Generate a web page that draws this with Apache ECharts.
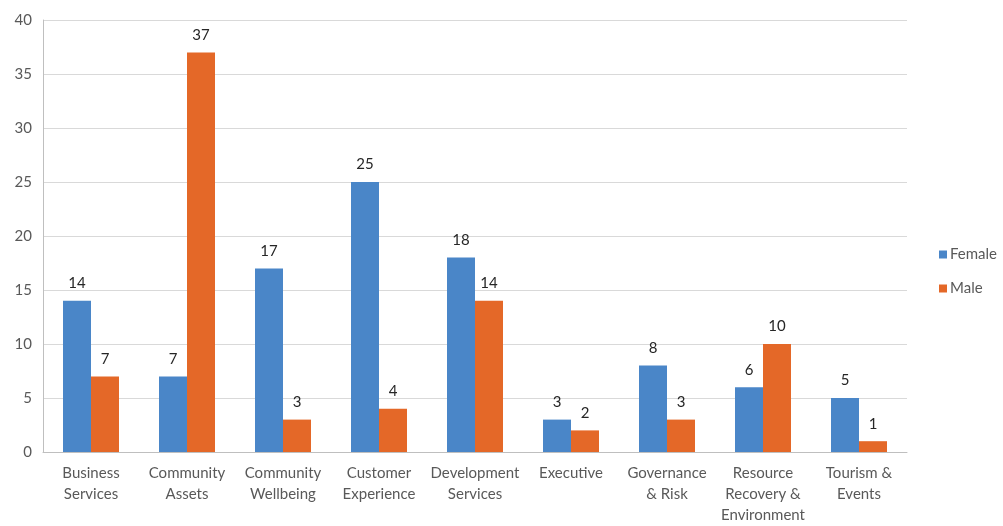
<!DOCTYPE html>
<html>
<head>
<meta charset="utf-8">
<script src="https://cdn.jsdelivr.net/npm/echarts@6/dist/echarts.min.js"></script>
<style>
  html, body { margin: 0; padding: 0; background: #fff; }
  #chart { width: 1003px; height: 526px; }
</style>
</head>
<body>
<div id="chart"></div>
<script>
// Staff headcount by department, split by gender
const categories = [
  'Business\nServices',
  'Community\nAssets',
  'Community\nWellbeing',
  'Customer\nExperience',
  'Development\nServices',
  'Executive',
  'Governance\n& Risk',
  'Resource\nRecovery &\nEnvironment',
  'Tourism &\nEvents'
];
const female = [14, 7, 17, 25, 18, 3, 8, 6, 5];
const male = [7, 37, 3, 4, 14, 2, 3, 10, 1];
const yTicks = [0, 5, 10, 15, 20, 25, 30, 35, 40];

const FONT = 'Lato, "Open Sans", sans-serif';

const chart = echarts.init(document.getElementById('chart'), null, { renderer: 'canvas' });

const labelStyle = {
  show: true,
  position: 'top',
  distance: 10,
  color: '#262626',
  fontFamily: FONT,
  fontSize: 15
};

chart.setOption({
  animation: false,
  backgroundColor: '#ffffff',
  grid: { left: 43, right: 96, top: 20, bottom: 70, containLabel: false },
  legend: {
    orient: 'vertical',
    left: 934,
    top: 242,
    itemWidth: 8,
    itemHeight: 8,
    itemGap: 19,
    icon: 'rect',
    textStyle: { color: '#595959', fontFamily: FONT, fontSize: 15, padding: [0, 0, 0, -2] },
    data: ['Female', 'Male']
  },
  xAxis: {
    type: 'category',
    data: categories,
    axisLine: { show: true, lineStyle: { color: '#bfbfbf', width: 1 } },
    axisTick: { show: false },
    axisLabel: {
      color: '#595959',
      fontFamily: FONT,
      fontSize: 15,
      lineHeight: 21,
      margin: 11,
      interval: 0
    }
  },
  yAxis: {
    type: 'value',
    min: yTicks[0],
    max: yTicks[yTicks.length - 1],
    interval: 5,
    axisLine: { show: true, lineStyle: { color: '#bfbfbf', width: 1 } },
    axisTick: { show: false },
    splitLine: { lineStyle: { color: '#d9d9d9', width: 1 } },
    axisLabel: {
      color: '#595959',
      fontFamily: FONT,
      fontSize: 15,
      margin: 11
    }
  },
  series: [
    {
      name: 'Female',
      type: 'bar',
      data: female,
      barWidth: 28,
      barGap: '0%',
      itemStyle: { color: '#4a86c8' },
      label: labelStyle
    },
    {
      name: 'Male',
      type: 'bar',
      data: male,
      barWidth: 28,
      barGap: '0%',
      itemStyle: { color: '#e46828' },
      label: labelStyle
    }
  ]
});
</script>
</body>
</html>
